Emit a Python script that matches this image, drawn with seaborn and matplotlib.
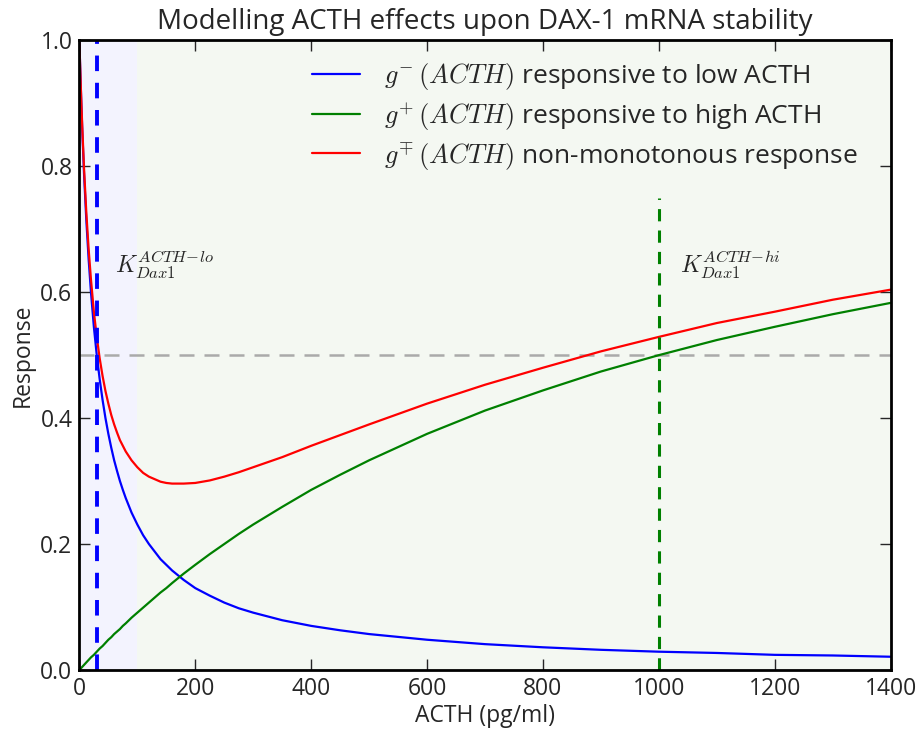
import matplotlib
matplotlib.use("Agg")
import matplotlib.pyplot as plt
import seaborn as sns
import pandas as pd

# ACTH concentrations (pg/ml) and responses
acth = [0, 1, 2, 3.5, 5, 8, 12, 16, 20, 25, 30, 35, 40, 45, 50, 55, 60, 65, 70,
        75, 80, 90, 100, 110, 120, 130, 140, 150, 160, 180, 200, 225, 250, 275,
        300, 350, 400, 450, 500, 600, 700, 800, 900, 1000, 1100, 1200, 1300, 1400]
g_minus = [1.0, 0.968, 0.938, 0.896, 0.857, 0.789, 0.714, 0.652, 0.600, 0.545,
           0.500, 0.462, 0.429, 0.400, 0.375, 0.353, 0.333, 0.316, 0.300, 0.286,
           0.273, 0.250, 0.231, 0.214, 0.200, 0.188, 0.176, 0.167, 0.158, 0.143,
           0.130, 0.118, 0.107, 0.098, 0.091, 0.079, 0.070, 0.063, 0.057, 0.048,
           0.041, 0.036, 0.032, 0.029, 0.027, 0.024, 0.023, 0.021]
g_plus = [0.0, 0.001, 0.002, 0.0035, 0.005, 0.008, 0.012, 0.016, 0.020, 0.024,
          0.029, 0.034, 0.038, 0.043, 0.048, 0.052, 0.057, 0.061, 0.065, 0.070,
          0.074, 0.083, 0.091, 0.099, 0.107, 0.115, 0.123, 0.130, 0.138, 0.153,
          0.167, 0.184, 0.200, 0.216, 0.231, 0.259, 0.286, 0.310, 0.333, 0.375,
          0.412, 0.444, 0.474, 0.500, 0.524, 0.545, 0.565, 0.583]
g_nonmono = [1.0, 0.969, 0.940, 0.899, 0.862, 0.797, 0.726, 0.668, 0.620, 0.569,
             0.529, 0.495, 0.467, 0.443, 0.423, 0.405, 0.390, 0.377, 0.365, 0.356,
             0.347, 0.333, 0.322, 0.313, 0.307, 0.303, 0.299, 0.297, 0.296, 0.296,
             0.297, 0.301, 0.307, 0.314, 0.322, 0.338, 0.356, 0.373, 0.390, 0.423,
             0.453, 0.480, 0.506, 0.529, 0.551, 0.569, 0.588, 0.604]

labels = [r"$g^{-}\,(ACTH)$ responsive to low ACTH",
          r"$g^{+}\,(ACTH)$ responsive to high ACTH",
          r"$g^{\mp}\,(ACTH)$ non-monotonous response"]
colors = ["blue", "green", "red"]

k_lo = 30
k_hi = 1000
low_region = (0, 100)
high_region = (100, 1400)
xticks = [0, 200, 400, 600, 800, 1000, 1200, 1400]
yticks = [0.0, 0.2, 0.4, 0.6, 0.8, 1.0]

sns.set_style("ticks", {"xtick.direction": "in", "ytick.direction": "in"})
plt.rcParams["font.family"] = ["Open Sans", "DejaVu Sans"]
plt.rcParams["mathtext.fontset"] = "cm"

fig, ax = plt.subplots(figsize=(9.23, 7.33), dpi=100)
fig.subplots_adjust(left=0.086, right=0.965, top=0.945, bottom=0.086)

ax.axvspan(*low_region, color="#f3f3fe", zorder=0, lw=0)
ax.axvspan(*high_region, color="#f4f8f2", zorder=0, lw=0)

df = pd.DataFrame({"acth": acth * 3,
                   "resp": g_minus + g_plus + g_nonmono,
                   "curve": [labels[0]] * len(acth) + [labels[1]] * len(acth) + [labels[2]] * len(acth)})
sns.lineplot(data=df, x="acth", y="resp", hue="curve", palette=colors,
             hue_order=labels, ax=ax, lw=1.6, sort=False, estimator=None)

ax.axhline(0.5, color="#aaaaaa", ls=(0, (6, 4)), lw=1.8, zorder=1)
ax.plot([k_lo, k_lo], [0, 1.0], color="blue", ls=(0, (4, 3)), lw=2.8)
ax.plot([k_hi, k_hi], [0, 0.75], color="green", ls=(0, (4, 3)), lw=2.2)

ax.text(62, 0.63, r"$K_{Dax1}^{ACTH\!-\!lo}$", fontsize=17)
ax.text(1036, 0.63, r"$K_{Dax1}^{ACTH\!-\!hi}$", fontsize=17)

ax.set_xlim(0, 1400)
ax.set_ylim(0, 1.0)
ax.set_xticks(xticks)
ax.set_yticks(yticks)
ax.set_xticklabels([str(t) for t in xticks])
ax.set_yticklabels([f"{t:.1f}" for t in yticks])
ax.tick_params(top=True, right=True, length=8, width=1, labelsize=16.5, pad=5)
for s in ax.spines.values():
    s.set_linewidth(2)
    s.set_color("black")

ax.set_xlabel("ACTH (pg/ml)", fontsize=16.5, labelpad=2)
ax.set_ylabel("Response", fontsize=16.5)
ax.set_title("Modelling ACTH effects upon DAX-1 mRNA stability", fontsize=20, pad=8)

leg = ax.legend(loc="upper right", frameon=False, fontsize=19, handlelength=1.8,
                handletextpad=0.9, labelspacing=0.3, borderaxespad=0.4,
                bbox_to_anchor=(0.985, 1.0))
for line in leg.get_lines():
    line.set_linewidth(1.6)

fig.savefig("out.png", dpi=100)
